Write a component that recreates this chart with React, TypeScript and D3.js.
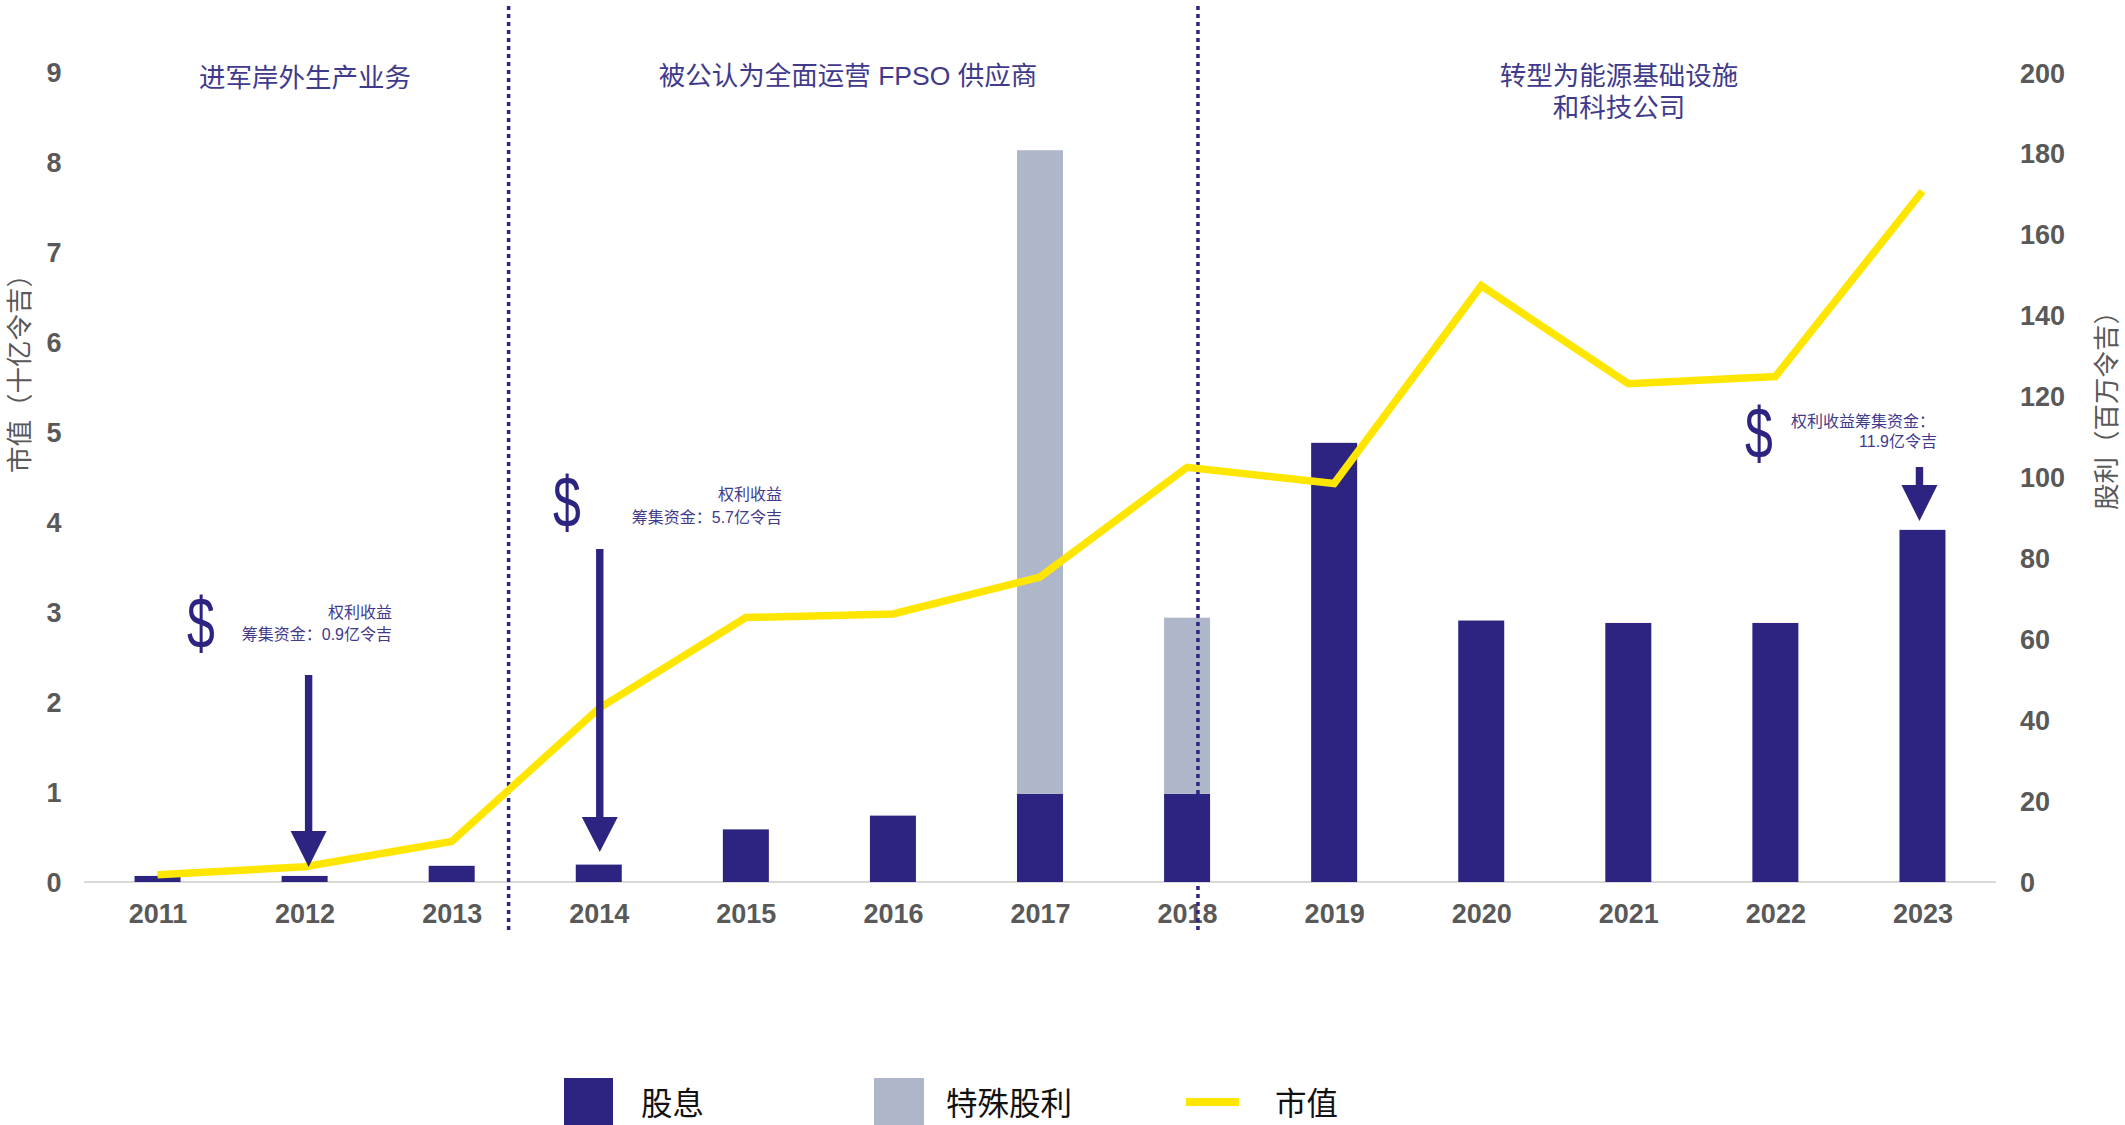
import React from "react";
import * as d3 from "d3";

const years = ["2011","2012","2013","2014","2015","2016","2017","2018","2019","2020","2021","2022","2023"];
const dividend = [1.5,1.5,4,4.3,13,16.4,21.8,21.8,108.5,64.6,64,64,87];
const special = [0,0,0,0,0,0,159,43.5,0,0,0,0,0];
const marketCap = [0.08,0.17,0.45,1.93,2.94,2.98,3.39,4.61,4.43,6.63,5.54,5.62,7.68];
const leftTicks = [0,1,2,3,4,5,6,7,8,9];
const rightTicks = [0,20,40,60,80,100,120,140,160,180,200];
const eraDividers = [{ year: "2013", offset: 0.387 }, { year: "2018", offset: 0.074 }];

const NAVY = "#2c2480";
const GREY = "#adb7c9";
const YELLOW = "#ffe600";
const TEXT = "#595959";
const ANN = "#3f3a8c";
const FONT = "'Liberation Sans','Noto Sans CJK SC',sans-serif";
const W = 2125, H = 1125;

export default function App() {
  const x = d3.scaleBand<string>().domain(years).range([84, 1996]).paddingInner(0.68).paddingOuter(0.34);
  const cx = (y: string) => (x(y) as number) + x.bandwidth() / 2;
  const step = x.step();
  const yL = d3.scaleLinear().domain([0, 9]).range([882, 72.5]);
  const yR = d3.scaleLinear().domain([0, 200]).range([882, 72.5]);
  const line = d3.line<number>().x((_, i) => cx(years[i])).y((d) => yL(d));
  const bw = 46;

  const arrow = (xc: number, top: number, headY: number, tip: number) =>
    `M${xc - 3.7},${top}L${xc + 3.7},${top}L${xc + 3.7},${headY}L${xc + 18},${headY}L${xc},${tip}L${xc - 18},${headY}L${xc - 3.7},${headY}Z`;

  const dollar = (px: number, py: number) => (
    <text transform={`translate(${px},${py}) scale(0.78,1.12)`} textAnchor="middle" fontSize={64} fill={NAVY}>$</text>
  );

  return (
    <svg width={W} height={H} viewBox={`0 0 ${W} ${H}`} style={{ position: "absolute", left: 0, top: 0, background: "#fff" }} fontFamily={FONT}>
      <line x1={84} x2={1996} y1={882} y2={882} stroke="#d9d9d9" strokeWidth={2} />

      {years.map((y, i) => (
        <g key={y}>
          <rect x={cx(y) - bw / 2} y={yR(dividend[i])} width={bw} height={yR(0) - yR(dividend[i])} fill={NAVY} />
          {special[i] > 0 && (
            <rect x={cx(y) - bw / 2} y={yR(dividend[i] + special[i])} width={bw} height={yR(dividend[i]) - yR(dividend[i] + special[i])} fill={GREY} />
          )}
          <text x={cx(y) + 0.5} y={923} textAnchor="middle" fontSize={27} fontWeight={700} fill={TEXT}>{y}</text>
        </g>
      ))}

      {eraDividers.map((d) => (
        <line key={d.year} x1={cx(d.year) + d.offset * step} x2={cx(d.year) + d.offset * step} y1={6} y2={932} stroke={NAVY} strokeWidth={3.5} strokeDasharray="4 4" />
      ))}

      <path d={line(marketCap) as string} fill="none" stroke={YELLOW} strokeWidth={7.5} strokeLinejoin="miter" />

      {leftTicks.map((t) => (
        <text key={t} x={54} y={yL(t) + 9.5} textAnchor="middle" fontSize={27} fontWeight={700} fill={TEXT}>{t}</text>
      ))}
      {rightTicks.map((t) => (
        <text key={t} x={2020} y={yR(t) + 10} textAnchor="start" fontSize={27} fontWeight={700} fill={TEXT}>{t}</text>
      ))}

      <text transform="translate(29,473) rotate(-90)" textAnchor="start" fontSize={26.5} fill={TEXT}>市值（十亿令吉）</text>
      <text transform="translate(2116,510) rotate(-90)" textAnchor="start" fontSize={26.5} fill={TEXT}>股利（百万令吉）</text>

      <g fontSize={26.5} fill={ANN} textAnchor="middle">
        <text x={305} y={87}>进军岸外生产业务</text>
        <text x={848} y={85}>被公认为全面运营 FPSO 供应商</text>
        <text x={1619} y={85}>转型为能源基础设施</text>
        <text x={1619} y={117}>和科技公司</text>
      </g>

      <g fontSize={16} fill={ANN} textAnchor="end">
        <text x={392} y={618}>权利收益</text>
        <text x={392} y={640}>筹集资金：0.9亿令吉</text>
        <text x={782} y={500}>权利收益</text>
        <text x={782} y={523}>筹集资金：5.7亿令吉</text>
        <text x={1935} y={427}>权利收益筹集资金：</text>
        <text x={1937} y={447}>11.9亿令吉</text>
      </g>

      {dollar(201, 648)}
      {dollar(567, 527)}
      {dollar(1759, 458)}

      <path d={arrow(cx("2012") + 4, 675, 831, 867)} fill={NAVY} />
      <path d={arrow(cx("2014") + 1, 549, 817, 852)} fill={NAVY} />
      <path d={arrow(cx("2023") - 3, 467, 485, 521)} fill={NAVY} />

      <rect x={564} y={1078} width={49} height={47} fill={NAVY} />
      <rect x={874} y={1078} width={50} height={47} fill={GREY} />
      <rect x={1186} y={1098} width={53} height={8} fill={YELLOW} />
      <g fontSize={31.5} fill="#111" textAnchor="start">
        <text x={641} y={1115}>股息</text>
        <text x={946} y={1115}>特殊股利</text>
        <text x={1275} y={1115}>市值</text>
      </g>
    </svg>
  );
}
